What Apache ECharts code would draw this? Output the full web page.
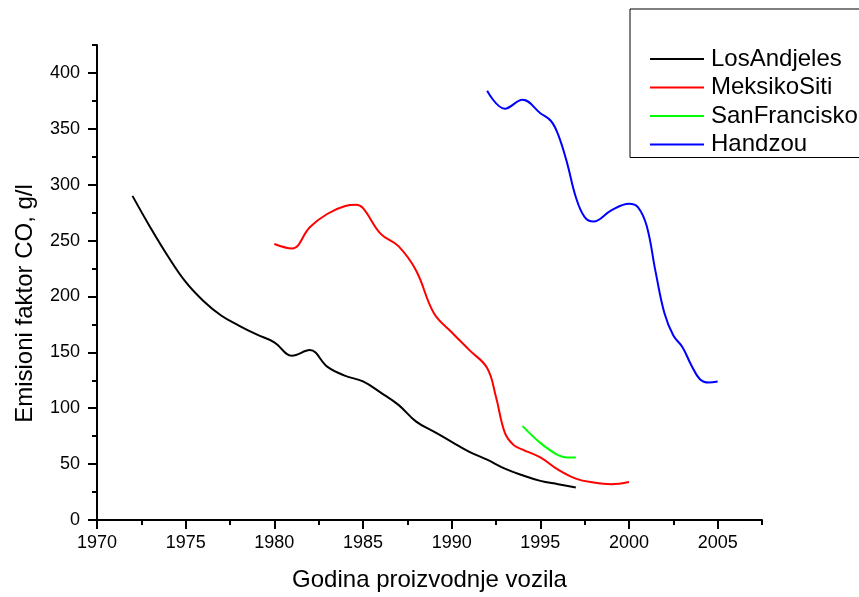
<!DOCTYPE html>
<html>
<head>
<meta charset="utf-8">
<script src="https://cdn.jsdelivr.net/npm/echarts@6/dist/echarts.min.js"></script>
<style>html,body{margin:0;padding:0;background:#fff;}#c{width:859px;height:597px;}</style>
</head>
<body>
<div id="c"></div>
<script>
// ---- data ----
var seriesNames = ['LosAndjeles', 'MeksikoSiti', 'SanFrancisko', 'Handzou'];
var laYears = [1972,1973,1974,1975,1976,1977,1978,1979,1980,1981,1982,1983,1984,1985,1986,1987,1988,1989,1990,1991,1992,1993,1994,1995,1996,1997];
var laValues = [290,262,236,213,196,183,174,166,159,147,152,137,129,124,114,103,88,79,70,61,54,46,40,35,32,29];
var mcYears = [1980,1981,1982,1983,1984,1984.6,1985,1986,1987,1988,1989,1990,1991,1992,1992.5,1993,1993.5,1994,1995,1996,1997,1998,1999,2000];
var mcValues = [247,243,262,274,281,282,279,256,245,223,185,168,152,136,110,78,67,63,56,45,37,33.5,32,34];
var sfYears = [1994,1995,1996,1996.5,1997];
var sfValues = [84,69,58,56,56];
var gzYears = [1992,1993,1994,1995,1995.6,1996,1996.5,1997,1997.5,1998,1999,2000,2000.5,2001,2001.5,2002,2002.5,2003,2003.5,2004,2004.5,2005];
var gzValues = [384,368,376,364,357,345,320,289,271,267,277,283,280,263,222,185,165,155,139,126,123,124];
var xTickLabels = [1970,1975,1980,1985,1990,1995,2000,2005];
var xMinorTicks = [1972.5,1977.5,1982.5,1987.5,1992.5,1997.5,2002.5,2007.5];
var yTickLabels = [0,50,100,150,200,250,300,350,400];
var yMinorTicks = [25,75,125,175,225,275,325,375,425];
var xTitle = 'Godina proizvodnje vozila';
var yTitle = 'Emisioni faktor CO, g/l';
// ---------------

function pairs(xs, ys){ return xs.map(function(x,i){ return [x, ys[i]]; }); }
var FONT = '"Liberation Sans", Arial, sans-serif';
var colors = ['#000000','#ff0000','#00ff00','#0000ff'];
var dataSets = [pairs(laYears,laValues), pairs(mcYears,mcValues), pairs(sfYears,sfValues), pairs(gzYears,gzValues)];

var chart = echarts.init(document.getElementById('c'), null, {renderer:'canvas'});
var axisLine = {show:true, lineStyle:{color:'#000', width:2}};
var option = {
  animation:false,
  backgroundColor:'#fff',
  textStyle:{fontFamily:FONT},
  grid:{left:97, right:97, top:45, bottom:74, containLabel:false},
  legend:{
    orient:'vertical', left:630, top:9,
    padding:[38,100,1,20],
    borderColor:'#000', borderWidth:1,
    icon:'rect',
    itemWidth:54, itemHeight:2, itemGap:4.5,
    textStyle:{fontSize:24, color:'#000', fontFamily:FONT, lineHeight:24, padding:[0,0,0,2]},
    data:seriesNames
  },
  xAxis:[{
    type:'value', min:1970, max:2007.5, gridIndex:0,
    name:xTitle, nameLocation:'middle', nameGap:48,
    nameTextStyle:{fontSize:24, color:'#000', fontFamily:FONT},
    axisLine:axisLine,
    axisTick:{show:true, inside:false, length:9, lineStyle:{color:'#000', width:2}, customValues:xTickLabels},
    axisLabel:{show:true, fontSize:18, color:'#000', margin:14, fontFamily:FONT, customValues:xTickLabels,
      formatter:function(v){ return String(v); }},
    splitLine:{show:false}
  },{
    type:'value', min:1970, max:2007.5, gridIndex:0, position:'bottom',
    axisLine:{show:false},
    axisTick:{show:true, length:5, lineStyle:{color:'#000', width:2}, customValues:xMinorTicks},
    axisLabel:{show:false},
    splitLine:{show:false}
  }],
  yAxis:[{
    type:'value', min:0, max:425, gridIndex:0,
    name:yTitle, nameLocation:'middle', nameGap:60, nameRotate:90,
    nameTextStyle:{fontSize:24, color:'#000', fontFamily:FONT, padding:[0,42,0,0]},
    axisLine:axisLine,
    axisTick:{show:true, length:9, lineStyle:{color:'#000', width:2}, customValues:yTickLabels},
    axisLabel:{show:true, fontSize:18, color:'#000', margin:17, fontFamily:FONT, customValues:yTickLabels,
      formatter:function(v){ return String(v); }},
    splitLine:{show:false}
  },{
    type:'value', min:0, max:425, gridIndex:0, position:'left',
    axisLine:{show:false},
    axisTick:{show:true, length:5, lineStyle:{color:'#000', width:2}, customValues:yMinorTicks},
    axisLabel:{show:false},
    splitLine:{show:false}
  }],
  series: seriesNames.map(function(n,i){
    return {
      name:n, type:'line', xAxisIndex:0, yAxisIndex:0,
      data:dataSets[i], smooth:0.4, symbol:'none', showSymbol:false,
      lineStyle:{color:colors[i], width:2}, itemStyle:{color:colors[i]}
    };
  })
};
chart.setOption(option);
</script>
</body>
</html>
